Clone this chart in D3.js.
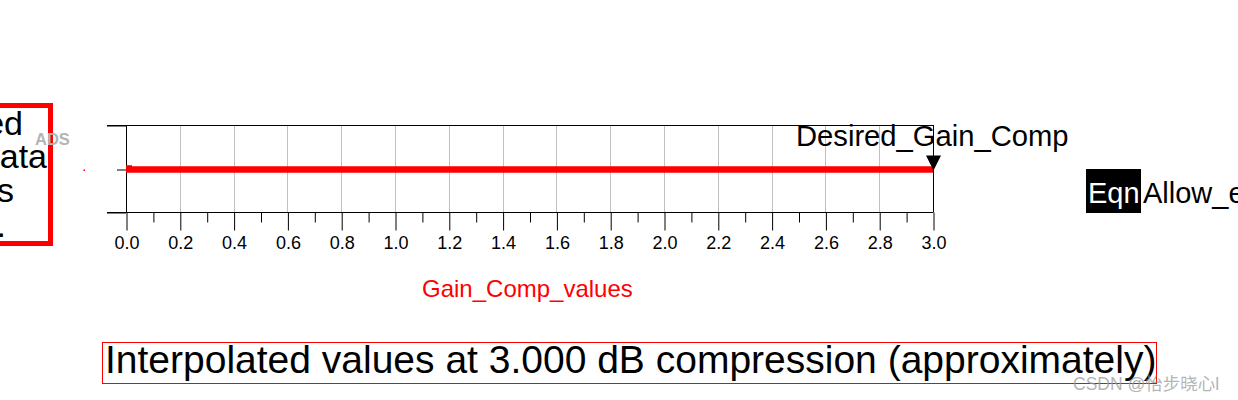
<!DOCTYPE html>
<html>
<head>
<meta charset="utf-8">
<script src="https://cdn.jsdelivr.net/npm/d3@7"></script>
<style>
  html, body { margin: 0; padding: 0; background: #fff; overflow: hidden; }
  svg { display: block; font-family: "Liberation Sans", Arial, sans-serif; }
</style>
</head>
<body>
<svg id="chart" width="1238" height="400"></svg>
<script>
// ---- data ----
const gainCompValues = [0.0, 0.5, 1.0, 1.5, 2.0, 2.5, 3.0];
const seriesValues   = [0, 0, 0, 0, 0, 0, 0];
const xMajorTicks = [0.0, 0.2, 0.4, 0.6, 0.8, 1.0, 1.2, 1.4, 1.6, 1.8, 2.0, 2.2, 2.4, 2.6, 2.8, 3.0];
const xMinorTicks = [0.1, 0.3, 0.5, 0.7, 0.9, 1.1, 1.3, 1.5, 1.7, 1.9, 2.1, 2.3, 2.5, 2.7, 2.9];
const xTickLabels = ["0.0","0.2","0.4","0.6","0.8","1.0","1.2","1.4","1.6","1.8","2.0","2.2","2.4","2.6","2.8","3.0"];
const yMajorTicks = [-1, 1];
const yMinorTicks = [0];
const markerX = [3.0];
const markerY = [0];
const markerLabel = "Desired_Gain_Comp";
const xAxisTitle = "Gain_Comp_values";
const titleText = "Interpolated values at 3.000 dB compression (approximately)";
const leftBoxLines = ["ed", "ata", "s", "."];
const eqnTag = "Eqn";
const eqnText = "Allow_error";
const watermark = "CSDN @怡步晓心l";

// ---- layout ----
const svg = d3.select("#chart");
const x = d3.scaleLinear().domain([0, 3]).range([126, 933]);
const y = d3.scaleLinear().domain([-1, 1]).range([212, 125]);

// left partial text box
svg.append("rect").attr("x", -20).attr("y", 105.5).attr("width", 70.5).attr("height", 138)
  .attr("fill", "none").attr("stroke", "#ff0000").attr("stroke-width", 5);
const leftEnds = [23, 47, 14, 6];
const leftBase = [135, 168, 202, 237];
svg.selectAll("text.lb").data(leftBoxLines).join("text").attr("class", "lb")
  .attr("x", (d, i) => leftEnds[i]).attr("y", (d, i) => leftBase[i])
  .attr("text-anchor", "end").attr("font-size", 34).attr("fill", "#000").text(d => d);

// ADS watermark
svg.append("text").attr("x", 35).attr("y", 145).attr("font-size", 16.5).attr("font-weight", "bold")
  .attr("fill", "#b4b4b4").text("ADS");

// tiny red point
svg.append("rect").attr("x", 83.5).attr("y", 169.5).attr("width", 1.5).attr("height", 1.5).attr("fill", "#ff0000");

// gridlines
svg.append("g").selectAll("line").data(xMajorTicks.filter(v => v > 0 && v < 3)).join("line")
  .attr("x1", d => Math.round(x(d)) + 0.5).attr("x2", d => Math.round(x(d)) + 0.5)
  .attr("y1", y(1)).attr("y2", y(-1)).attr("stroke", "#c0c0c0").attr("stroke-width", 1);

// x axis (major / minor)
const xAxisMajor = d3.axisBottom(x).tickValues(xMajorTicks).tickSize(18)
  .tickFormat((d, i) => xTickLabels[i]);
const gx = svg.append("g").attr("transform", `translate(0.5,${y(-1) + 0.5})`).call(xAxisMajor);
gx.select(".domain").remove();
gx.selectAll(".tick line").attr("stroke", "#000");
gx.selectAll(".tick text").attr("font-size", 18).attr("fill", "#000")
  .attr("font-family", "Liberation Sans, Arial, sans-serif").attr("dy", null).attr("y", 36);

const xAxisMinor = d3.axisBottom(x).tickValues(xMinorTicks).tickSize(10).tickFormat("");
const gxm = svg.append("g").attr("transform", `translate(0.5,${y(-1) + 0.5})`).call(xAxisMinor);
gxm.select(".domain").remove();
gxm.selectAll(".tick line").attr("stroke", "#000");

// y axis ticks
const yAxisMajor = d3.axisLeft(y).tickValues(yMajorTicks).tickSize(19).tickFormat("");
const gy = svg.append("g").attr("transform", `translate(${x(0)},0.5)`).call(yAxisMajor);
gy.select(".domain").remove();
gy.selectAll(".tick line").attr("stroke", "#000");
const yAxisMinor = d3.axisLeft(y).tickValues(yMinorTicks).tickSize(9).tickFormat("");
const gym = svg.append("g").attr("transform", `translate(${x(0)},1)`).call(yAxisMinor);
gym.select(".domain").remove();
gym.selectAll(".tick line").attr("stroke", "#000");

// frame
const frame = svg.append("g").attr("stroke", "#000").attr("stroke-width", 1);
frame.append("line").attr("x1", 107).attr("x2", x(3) + 0.5).attr("y1", y(1) + 0.5).attr("y2", y(1) + 0.5);
frame.append("line").attr("x1", 107).attr("x2", x(3) + 0.5).attr("y1", y(-1) + 0.5).attr("y2", y(-1) + 0.5);
frame.append("line").attr("x1", x(0) + 0.5).attr("x2", x(0) + 0.5).attr("y1", y(1)).attr("y2", y(-1));
frame.append("line").attr("x1", x(3) + 0.5).attr("x2", x(3) + 0.5).attr("y1", y(1)).attr("y2", y(-1));

// series line
const line = d3.line().x((d, i) => x(gainCompValues[i])).y(d => y(d) + 1);
svg.append("path").datum(seriesValues).attr("d", line)
  .attr("fill", "none").attr("stroke", "#ff0000").attr("stroke-width", 6.5).attr("stroke-linecap", "butt");
svg.append("rect").attr("x", x(0)).attr("y", y(0) - 3.3).attr("width", 6).attr("height", 3).attr("fill", "#ff0000");

// marker
svg.selectAll("path.mk").data(markerX).join("path").attr("class", "mk")
  .attr("d", (d, i) => {
    const cx = x(d) + 0.5, ty = y(markerY[i]) + 2;
    return `M${cx - 7.5},${ty - 15} L${cx + 7.5},${ty - 15} L${cx},${ty} Z`;
  }).attr("fill", "#000");
svg.append("text").attr("x", 796).attr("y", 146).attr("font-size", 29.2).attr("fill", "#000")
  .text(markerLabel);

// x axis title
svg.append("text").attr("x", 422).attr("y", 297).attr("font-size", 24).attr("fill", "#ff0000").text(xAxisTitle);

// Eqn block
svg.append("rect").attr("x", 1086).attr("y", 169).attr("width", 55).attr("height", 44).attr("fill", "#000");
svg.append("text").attr("x", 1088).attr("y", 203).attr("font-size", 29).attr("fill", "#fff").text(eqnTag);
svg.append("text").attr("x", 1143).attr("y", 203).attr("font-size", 29).attr("fill", "#000").text(eqnText);

// title box
svg.append("rect").attr("x", 102.5).attr("y", 342.5).attr("width", 1054).attr("height", 41)
  .attr("fill", "none").attr("stroke", "#ff0000").attr("stroke-width", 1);
svg.append("text").attr("x", 105).attr("y", 373).attr("font-size", 39).attr("fill", "#000").text(titleText);

// watermark
svg.append("text").attr("x", 1073).attr("y", 390).attr("font-size", 17.5)
  .attr("font-family", "Liberation Sans, 'Noto Sans CJK SC', sans-serif")
  .attr("fill", "#9a9a9a").attr("fill-opacity", 0.75).text(watermark);
</script>
</body>
</html>
